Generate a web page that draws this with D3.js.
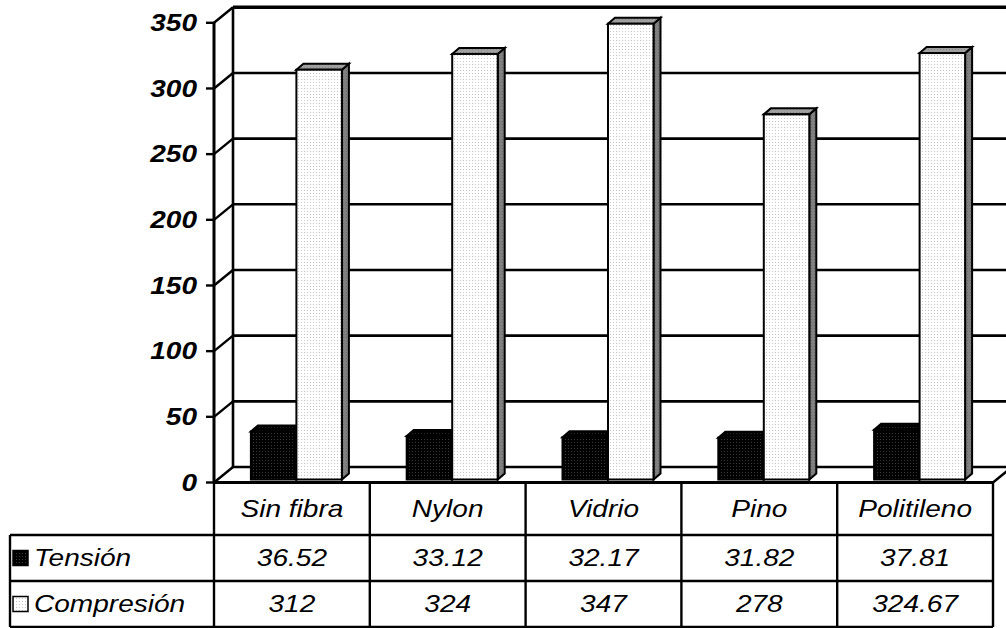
<!DOCTYPE html>
<html>
<head>
<meta charset="utf-8">
<script src="https://cdn.jsdelivr.net/npm/d3@7"></script>
<style>
  html, body { margin: 0; padding: 0; background: #fff; }
  svg { display: block; }
  text { font-family: "Liberation Sans", Arial, sans-serif; font-style: italic; fill: #000; }
</style>
</head>
<body>
<svg id="chart" width="1006" height="628"></svg>
<script>
// Resistencia por tipo de fibra
const categories = ["Sin fibra", "Nylon", "Vidrio", "Pino", "Politileno"];
const series = ["Tensión", "Compresión"];
const tension = [36.52, 33.12, 32.17, 31.82, 37.81];
const compresion = [312, 324, 347, 278, 324.67];
const tensionLabels = ["36.52", "33.12", "32.17", "31.82", "37.81"];
const compresionLabels = ["312", "324", "347", "278", "324.67"];
const yTicks = [0, 50, 100, 150, 200, 250, 300, 350];

const svg = d3.select("#chart");
const W = 1006, H = 628;

// oblique 3D offsets
const wallDX = 19, wallDY = -15.5;     // front plane -> back wall
const barFX = 4.5, barFY = -3;          // front plane -> bar front face
const barDX = 7, barDY = -6;            // bar depth

// text is drawn slightly widened
const FONT = 23, STRETCH = 1.22;

const x0 = d3.scaleBand().domain(categories).range([214, 993]).paddingInner(0).paddingOuter(0);
const x1 = d3.scaleBand().domain(series).range([0, x0.bandwidth()]).paddingInner(0).paddingOuter(0.712);
const y = d3.scaleLinear().domain([0, 350]).range([482.5, 22.8]);

function label(parent, x, yy, str, anchor, bold) {
  return parent.append("text")
    .attr("transform", `translate(${x},${yy}) scale(${STRETCH},1)`)
    .attr("dy", "0.36em")
    .attr("text-anchor", anchor)
    .attr("font-size", FONT)
    .attr("font-weight", bold ? "bold" : "normal")
    .text(str);
}

// fill patterns
const defs = svg.append("defs");
function dots(id, bg, dot, step) {
  const p = defs.append("pattern").attr("id", id).attr("patternUnits", "userSpaceOnUse")
    .attr("width", step).attr("height", step);
  p.append("rect").attr("width", step).attr("height", step).attr("fill", bg);
  p.append("rect").attr("x", 1).attr("y", 1).attr("width", 1).attr("height", 1).attr("fill", dot);
}
dots("darkFront", "#000", "#3a3a3a", 3);
dots("darkSide", "#000", "#2a2a2a", 3);
dots("lightFront", "#fff", "#c8c8c8", 3);
dots("lightTop", "#a0a0a0", "#858585", 3);
dots("lightSide", "#808080", "#6a6a6a", 3);

const fills = {
  "Tensión": { front: "url(#darkFront)", top: "url(#darkSide)", side: "url(#darkSide)" },
  "Compresión": { front: "url(#lightFront)", top: "url(#lightTop)", side: "url(#lightSide)" }
};

const walls = svg.append("g").attr("stroke", "#000").attr("fill", "none");

// back wall gridlines
walls.selectAll("line.grid").data(yTicks).join("line")
  .attr("x1", 214 + wallDX).attr("x2", W + 10)
  .attr("y1", d => y(d) + wallDY).attr("y2", d => y(d) + wallDY)
  .attr("stroke-width", d => d === 350 ? 3.5 : 2.6);

// side wall diagonals
walls.selectAll("line.diag").data(yTicks).join("line")
  .attr("x1", 214).attr("y1", d => y(d))
  .attr("x2", 214 + wallDX).attr("y2", d => y(d) + wallDY)
  .attr("stroke-width", 2.4);

// back wall left edge
walls.append("line")
  .attr("x1", 214 + wallDX).attr("x2", 214 + wallDX)
  .attr("y1", y(350) + wallDY).attr("y2", y(0) + wallDY)
  .attr("stroke-width", 2.6);

// floor right edge
walls.append("line")
  .attr("x1", 993).attr("y1", y(0)).attr("x2", 993 + wallDX).attr("y2", y(0) + wallDY)
  .attr("stroke-width", 2.4);

// bars
const rows = categories.map((c, i) => ({ cat: c, values: [
  { s: "Tensión", v: tension[i] }, { s: "Compresión", v: compresion[i] }] }));

const bars = svg.append("g").attr("stroke", "#000").attr("stroke-width", 2).attr("stroke-linejoin", "miter");
rows.forEach(r => {
  r.values.forEach(d => {
    const xl = x0(r.cat) + x1(d.s) + barFX;
    const xr = xl + x1.bandwidth();
    const yt = y(d.v) + barFY;
    const yb = y(0) + barFY;
    const f = fills[d.s];
    const g = bars.append("g");
    g.append("polygon").attr("fill", f.side).attr("points", [
      [xr, yt], [xr + barDX, yt + barDY], [xr + barDX, yb + barDY], [xr, yb]].join(" "));
    g.append("polygon").attr("fill", f.top).attr("points", [
      [xl, yt], [xl + barDX, yt + barDY], [xr + barDX, yt + barDY], [xr, yt]].join(" "));
    g.append("rect").attr("fill", f.front)
      .attr("x", xl).attr("y", yt).attr("width", xr - xl).attr("height", yb - yt);
  });
});

// front value axis
const axisG = svg.append("g").attr("stroke", "#000");
axisG.append("line").attr("x1", 214).attr("x2", 214).attr("y1", y(350)).attr("y2", y(0))
  .attr("stroke-width", 3);
axisG.selectAll("line.tick").data(yTicks).join("line")
  .attr("x1", 206).attr("x2", 214).attr("y1", d => y(d)).attr("y2", d => y(d))
  .attr("stroke-width", 2.4);

const tickText = svg.append("g");
yTicks.forEach(t => label(tickText, 197, y(t), String(t), "end", true));

// data table
const tableTop = y(0), row1 = 535, row2 = 581, row3 = 627;
const tbl = svg.append("g").attr("stroke", "#000").attr("stroke-width", 2.4);
tbl.append("line").attr("x1", 214).attr("x2", 993).attr("y1", tableTop).attr("y2", tableTop).attr("stroke-width", 3);
[row1, row2, row3].forEach(ry => tbl.append("line").attr("x1", 10).attr("x2", 993).attr("y1", ry).attr("y2", ry));
const colEdges = categories.map(c => x0(c)).concat([993]);
tbl.selectAll("line.col").data(colEdges).join("line")
  .attr("x1", d => d).attr("x2", d => d).attr("y1", tableTop).attr("y2", row3);
tbl.append("line").attr("x1", 10).attr("x2", 10).attr("y1", row1).attr("y2", row3);

const txt = svg.append("g");
categories.forEach((c, i) => {
  const cx = x0(c) + x0.bandwidth() / 2;
  label(txt, cx, (tableTop + row1) / 2, c, "middle", false);
  label(txt, cx, (row1 + row2) / 2, tensionLabels[i], "middle", false);
  label(txt, cx, (row2 + row3) / 2, compresionLabels[i], "middle", false);
});

// legend keys in the table
const keys = [{ s: "Tensión", fill: "url(#darkFront)", cy: (row1 + row2) / 2 },
              { s: "Compresión", fill: "url(#lightFront)", cy: (row2 + row3) / 2 }];
keys.forEach(k => {
  svg.append("rect").attr("x", 13).attr("y", k.cy - 7.5).attr("width", 15).attr("height", 15)
    .attr("fill", k.fill).attr("stroke", "#000").attr("stroke-width", 1.5);
  label(svg, 34, k.cy, k.s, "start", false);
});
</script>
</body>
</html>
